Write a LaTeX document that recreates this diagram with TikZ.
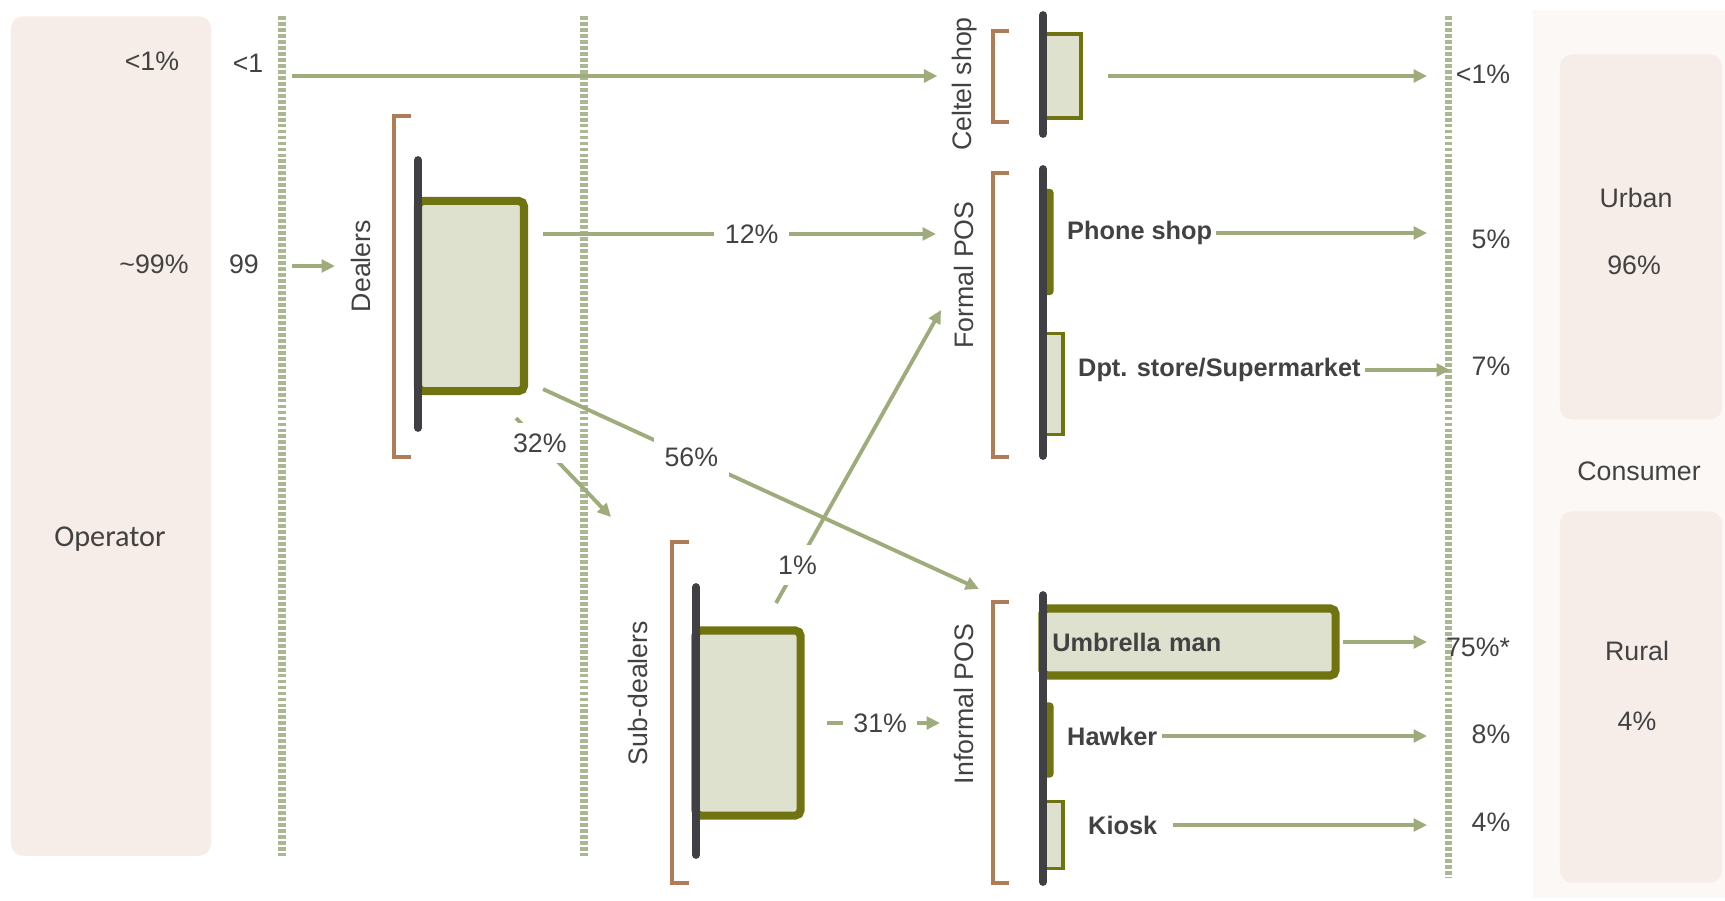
\documentclass[tikz,border=0pt]{standalone}
\usepackage{fontspec}
\setmainfont{Liberation Sans}
\newfontfamily\opfont{Carlito}
\usetikzlibrary{arrows.meta}

\definecolor{panelpink}{RGB}{246,236,232}
\definecolor{panellight}{RGB}{252,248,245}
\definecolor{guidegreen}{RGB}{170,183,145}
\definecolor{flowgreen}{RGB}{158,172,124}
\definecolor{olivedark}{RGB}{112,116,16}
\definecolor{boxfill}{RGB}{222,225,205}
\definecolor{spinegray}{RGB}{64,64,68}
\definecolor{bracketbrown}{RGB}{176,124,88}
\definecolor{txtgray}{RGB}{66,66,66}

\begin{document}
\begin{tikzpicture}[
    x=0.01cm, y=-0.01cm,
    font=\fontsize{7.6pt}{9pt}\selectfont,
    text=txtgray,
    panel/.style={fill=panelpink, rounded corners=3.5pt, inner sep=0pt},
    guide/.style={draw=guidegreen, line width=2pt, dash pattern=on 1.1pt off 0.6pt},
    flow/.style={-{Triangle[length=3.8pt,width=3.6pt]}, draw=flowgreen, line width=1.1pt},
    pct/.style={fill=white, inner sep=3pt},
    stage/.style={rotate=90, inner sep=1pt},
    item/.style={font=\fontsize{7.2pt}{9pt}\selectfont\bfseries, inner sep=1pt, anchor=west},
    unitbox/.style={draw=olivedark, fill=boxfill, line width=2.3pt, rounded corners=1.5pt, inner sep=0pt},
    smallbox/.style={draw=olivedark, fill=boxfill, line width=1.1pt, inner sep=0pt},
    thinbar/.style={fill=olivedark, rounded corners=1pt, inner sep=0pt},
    spine/.style={draw=spinegray, line width=2.2pt, line cap=round},
    bracket/.style={draw=bracketbrown, line width=0.9pt}
]

\fill[white] (0,0) rectangle (1725,900);
\useasboundingbox (0,0) rectangle (1725,900);

% Operator and consumer panels
\node[panel, minimum width=2cm, minimum height=8.39cm] (operator) at (111,436) {};
\node[panel, fill=panellight, rounded corners=0pt, minimum width=1.92cm, minimum height=8.88cm] (consumerpanel) at (1629,454) {};
\node[panel, minimum width=1.62cm, minimum height=3.65cm] (urban) at (1641,237) {};
\node[panel, minimum width=1.62cm, minimum height=3.71cm] (rural) at (1641,697) {};

\node[font=\opfont\fontsize{8.6pt}{10pt}\selectfont] (opname) at (110,539) {Operator};
\node (opsmall) at (152,61) {<1\%};
\node (opbig) at (154,264) {\textasciitilde 99\%};
\node (insmall) at (248,63) {<1};
\node (inbig) at (244,264) {99};

\node (urbanname) at (1636,198) {Urban};
\node (urbanpct) at (1634,265) {96\%};
\node (consumer) at (1639,471) {Consumer};
\node (ruralname) at (1637,651) {Rural};
\node (ruralpct) at (1637,721) {4\%};

% Dotted guides
\draw[guide] (282,16) -- (282,856);
\draw[guide] (584,16) -- (584,856);
\draw[guide] (1448,16) -- (1448,878);

% Stage labels
\node[stage] (celtel) at (965,84) {Celtel shop};
\node[stage] (formal) at (964,275) {Formal POS};
\node[stage] (informal) at (964,704) {Informal POS};
\node[stage] (dealers) at (361,266) {Dealers};
\node[stage] (subdealers) at (638,693) {Sub-dealers};

% Volume boxes
\node[smallbox, minimum width=0.38cm, minimum height=0.84cm] (celbox) at (1062,76) {};
\node[unitbox, minimum width=1.06cm, minimum height=1.90cm] (dealbox) at (471,296) {};
\node[unitbox, minimum width=1.05cm, minimum height=1.85cm] (subbox) at (748,723) {};
\node[thinbar, minimum width=0.11cm, minimum height=1.06cm] (phonebar) at (1048,242) {};
\node[smallbox, minimum width=0.20cm, minimum height=1.01cm] (dptbox) at (1053,384) {};
\node[unitbox, minimum width=2.93cm, minimum height=0.67cm, text width=2.73cm, align=left,
      font=\fontsize{7.2pt}{9pt}\selectfont\bfseries] (umbox) at (1189,642) {Umbrella man};
\node[thinbar, minimum width=0.11cm, minimum height=0.75cm] (hawkbar) at (1048,740) {};
\node[smallbox, minimum width=0.20cm, minimum height=0.67cm] (kiosbox) at (1053,835) {};

% Outlet names
\node[item] (phone) at (1063,233) {Phone shop};
\node[item] (dpt) at (1074,370) {Dpt. store/Supermarket};
\node[item] (hawker) at (1063,736) {Hawker};
\node[item] (kiosk) at (1084,825) {Kiosk};

% Consumer shares
\node (celpct) at (1483,74) {<1\%};
\node (phonepct) at (1491,239) {5\%};
\node (dptpct) at (1491,366) {7\%};
\node (umbpct) at (1478,647) {75\%*};
\node (hawkpct) at (1491,734) {8\%};
\node (kiospct) at (1491,822) {4\%};

% Flows
\coordinate (inx) at (292,0);
\coordinate (outx) at (1427,0);
\coordinate (dptx) at (1450,0);
\coordinate (d12) at ([yshift=6.2mm]dealbox.east);
\coordinate (to32) at (611,517);
\coordinate (to56) at (979,589);
\coordinate (from1) at (776,603);
\coordinate (to1) at (941,310);

\draw[flow, shorten >=1.1mm] (inx |- celbox) -- (celtel.north |- celbox);
\draw[flow, shorten <=2.5mm] (celbox) -- (celbox -| outx);
\draw[flow, shorten >=1.2mm] (inx |- dealers) -- (dealers);
\draw[flow, shorten <=1.5mm, shorten >=1.4mm] (d12) -- (d12 -| formal.north) node[pct, pos=0.53] {12\%};
\draw[flow] ([xshift=-1.2mm,yshift=-2.3mm]dealbox.south east) -- (to32) node[pct, pos=0.25] {32\%};
\draw[flow] ([xshift=1.5mm,yshift=0.6mm]dealbox.south east) -- (to56) node[pct, pos=0.34] {56\%};
\draw[flow] (from1) -- (to1) node[pct, pos=0.13] {1\%};
\draw[flow, shorten <=2.2mm, shorten >=1mm] (subbox) -- (subbox -| informal.north) node[pct, pos=0.52] {31\%};
\draw[flow] (phone) -- (phone -| outx);
\draw[flow] (dpt) -- (dpt -| dptx);
\draw[flow, shorten <=0.3mm] (umbox) -- (umbox -| outx);
\draw[flow] (hawker) -- (hawker -| outx);
\draw[flow, shorten <=1.2mm] (kiosk) -- (kiosk -| outx);

% Brackets and spines
\draw[bracket] (1009,31) -- (993,31) -- (993,122) -- (1009,122);
\draw[bracket] (1009,173) -- (993,173) -- (993,457) -- (1009,457);
\draw[bracket] (1009,602) -- (993,602) -- (993,883) -- (1009,883);
\draw[bracket] (411,116) -- (394,116) -- (394,457) -- (411,457);
\draw[bracket] (689,542) -- (672,542) -- (672,883) -- (689,883);

\draw[spine] (1043,15) -- (1043,134);
\draw[spine] (1043,169) -- (1043,456);
\draw[spine] (1043,595) -- (1043,882);
\draw[spine] (418,160) -- (418,428);
\draw[spine] (696,587) -- (696,855);

\end{tikzpicture}
\end{document}
